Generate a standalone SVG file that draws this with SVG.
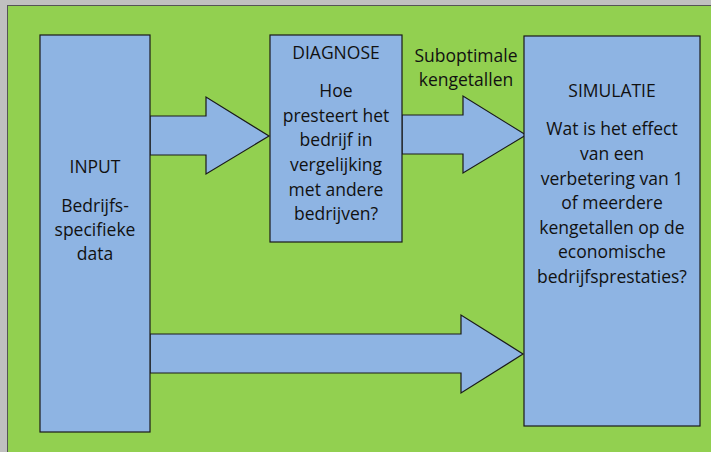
<svg xmlns="http://www.w3.org/2000/svg" width="711" height="452" viewBox="0 0 711 452">
<style>
.box{fill:#8EB4E3;stroke:#1a1a1a;stroke-width:1.2}
.arr{fill:#8EB4E3;stroke:#1a1a1a;stroke-width:1.2;stroke-linejoin:miter}
text{font-family:"Open Sans","Liberation Sans",sans-serif;font-size:17.5px;fill:#111;text-anchor:middle}
</style>
<rect x="0" y="0" width="711" height="452" fill="#c0c0c0"/>
<rect x="7.5" y="5.5" width="710" height="450" fill="#92D050" stroke="#555" stroke-width="1"/>
<g id="connectors">
<path class="arr" d="M150,116 H206 V97 L269,136 L206,174 V155 H150 Z"/>
<path class="arr" d="M402,115 H463 V96 L526,135 L463,173 V154 H402 Z"/>
<path class="arr" d="M150,334 H461 V315 L523,354 L461,393 V373 H150 Z"/>
</g>
<g id="input">
<rect class="box" x="40" y="35" width="110" height="397"/>
<text x="95" y="173">INPUT</text>
<text x="95" y="212">Bedrijfs-</text>
<text x="95" y="236">specifieke</text>
<text x="95" y="260">data</text>
</g>
<g id="diagnose">
<rect class="box" x="270" y="35" width="132" height="207"/>
<text x="336" y="59">DIAGNOSE</text>
<text x="336" y="97">Hoe</text>
<text x="336" y="122">presteert het</text>
<text x="336" y="146">bedrijf in</text>
<text x="336" y="171">vergelijking</text>
<text x="336" y="196">met andere</text>
<text x="336" y="220">bedrijven?</text>
</g>
<g id="label">
<text x="466" y="62">Suboptimale</text>
<text x="466" y="86">kengetallen</text>
</g>
<g id="simulatie">
<rect class="box" x="524" y="36" width="176" height="390"/>
<text x="612" y="97">SIMULATIE</text>
<text x="612" y="135">Wat is het effect</text>
<text x="612" y="160">van een</text>
<text x="612" y="185">verbetering van 1</text>
<text x="612" y="209">of meerdere</text>
<text x="612" y="234">kengetallen op de</text>
<text x="612" y="258">economische</text>
<text x="612" y="283">bedrijfsprestaties?</text>
</g>
</svg>
